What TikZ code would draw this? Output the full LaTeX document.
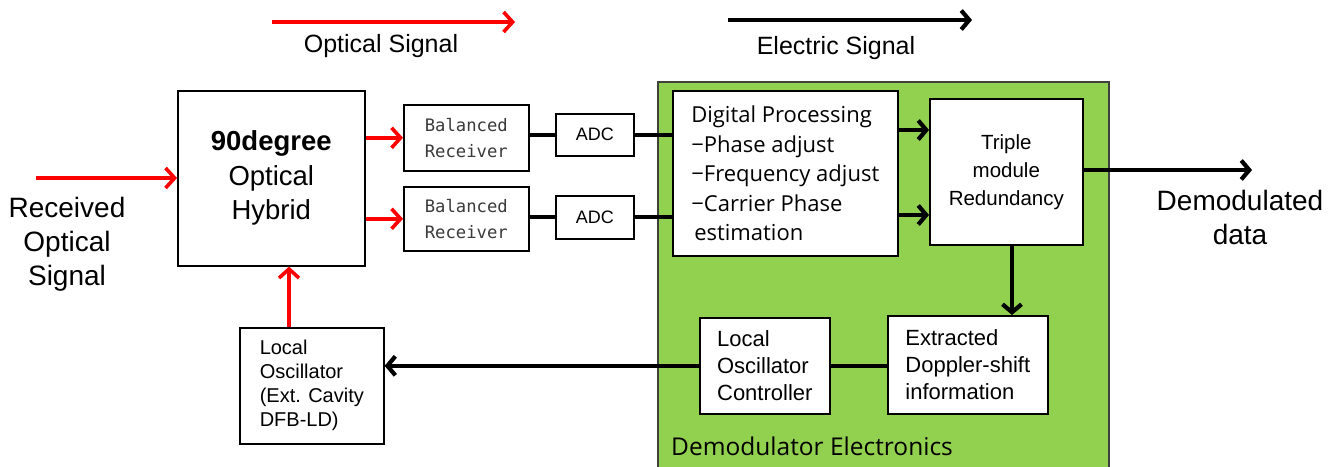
\documentclass[tikz,border=0pt]{standalone}
\usepackage{fontspec}
\setmainfont{Liberation Sans}
\newfontfamily\widefont{DejaVu Sans Mono}
\newfontfamily\humfont{Open Sans}
\usetikzlibrary{arrows.meta}
\definecolor{demgreen}{HTML}{92D050}
\definecolor{rxgray}{HTML}{3A3A3A}
\tikzset{
  x=1pt, y=-1pt,
  box/.style={draw, fill=white, line width=1.6pt, inner sep=0pt, anchor=north west},
  opt/.style={draw=red, line width=3.6pt, -{Straight Barb[length=9pt,width=20pt]}},
  ele/.style={draw=black, line width=4.2pt, -{Straight Barb[length=8pt,width=19pt]}},
  eline/.style={draw=black, line width=4.2pt},
  fs/.style 2 args={font=\fontsize{#1}{#2}\selectfont},
}
\begin{document}
\begin{tikzpicture}
\useasboundingbox (0,0) rectangle (1341,466);
% legend
\coordinate (lo1) at (272,22); \coordinate (lo2) at (515,22);
\draw[opt] (lo1) -- (lo2);
\node[fs={25}{30}] (ltxt1) at (381,46) {Optical Signal};
\coordinate (le1) at (728,20); \coordinate (le2) at (972,20);
\draw[ele] (le1) -- (le2);
\node[fs={25}{30}] (ltxt2) at (836,48) {Electric Signal};
% green area
\node[draw=black!75, fill=demgreen, line width=1.6pt, minimum width=451pt, minimum height=400pt, anchor=north west, inner sep=0pt] (demod) at (657,81) {};
\node[anchor=west, font=\humfont\fontsize{24.5}{28}\selectfont, inner sep=0pt] (demodlbl) at (671,446) {Demodulator Electronics};
% boxes
\node[box, minimum width=187pt, minimum height=175pt, fs={27.5}{34}, align=center] (hyb) at (177,90) {\textbf{90degree}\\[1pt]Optical\\Hybrid};
\node[box, minimum width=125pt, minimum height=66pt, font=\widefont\fontsize{17.2}{26}\selectfont, text=rxgray, align=left] (br1) at (403,104) {Balanced\\Receiver};
\node[box, minimum width=125pt, minimum height=64pt, font=\widefont\fontsize{17.2}{26}\selectfont, text=rxgray, align=left] (br2) at (403,186) {Balanced\\Receiver};
\node[box, minimum width=78pt, minimum height=42pt, fs={18}{20}] (adc1) at (555,113) {ADC};
\node[box, minimum width=78pt, minimum height=43pt, fs={18}{20}] (adc2) at (555,195) {ADC};
\node[box, minimum width=225pt, minimum height=165pt, font=\humfont\fontsize{22}{29.5}\selectfont, align=left] (dp) at (672,90) {Digital Processing\\−Phase adjust\\−Frequency adjust\\−Carrier Phase\\\hspace{3pt}estimation};
\node[box, minimum width=153pt, minimum height=146pt, fs={20.5}{28}, align=center] (tmr) at (929,98) {Triple\\module\\Redundancy};
\node[box, minimum width=160pt, minimum height=98pt, fs={22}{27}, align=left] (ext) at (887,315) {Extracted\\Doppler-shift\\information};
\node[box, minimum width=130pt, minimum height=96pt, fs={22}{27}, align=left] (loc) at (699,317) {Local\\Oscillator\\Controller};
\node[box, minimum width=144pt, minimum height=116pt, fs={20}{24}, align=left] (lo) at (239,327) {Local\\Oscillator\\(Ext. Cavity\\DFB-LD)};
% free texts
\node[fs={28}{34}, align=center] (rx) at (67,244) {Received\\Optical\\Signal};
\node[fs={28}{34}, align=center] (dd) at (1240,217) {Demodulated\\data};
% connectors
\coordinate (inS) at (36,178);
\draw[opt] (inS) -- (hyb.west |- inS);
\draw[opt] (hyb.east |- br1) -- (br1.west);
\draw[opt] (hyb.east |- br2) -- (br2.west);
\draw[eline] (br1.east |- adc1) -- (adc1.west);
\draw[eline] (br2.east |- adc2) -- (adc2.west);
\draw[eline] (adc1.east) -- (dp.west |- adc1);
\draw[eline] (adc2.east) -- (dp.west |- adc2);
\coordinate (r1) at (0,130); \coordinate (r2) at (0,215);
\draw[ele] (dp.east |- r1) -- (tmr.west |- r1);
\draw[ele] (dp.east |- r2) -- (tmr.west |- r2);
\coordinate (outE) at (1252,170);
\draw[ele] (tmr.east |- outE) -- (outE);
\coordinate (dn) at (1012,0);
\draw[ele] (tmr.south -| dn) -- (ext.north -| dn);
\draw[eline] (ext.west |- loc) -- (loc.east);
\draw[ele] (loc.west) -- (lo.east |- loc.west);
\coordinate (up) at (289,0);
\draw[opt] (lo.north -| up) -- (hyb.south -| up);
\end{tikzpicture}
\end{document}
